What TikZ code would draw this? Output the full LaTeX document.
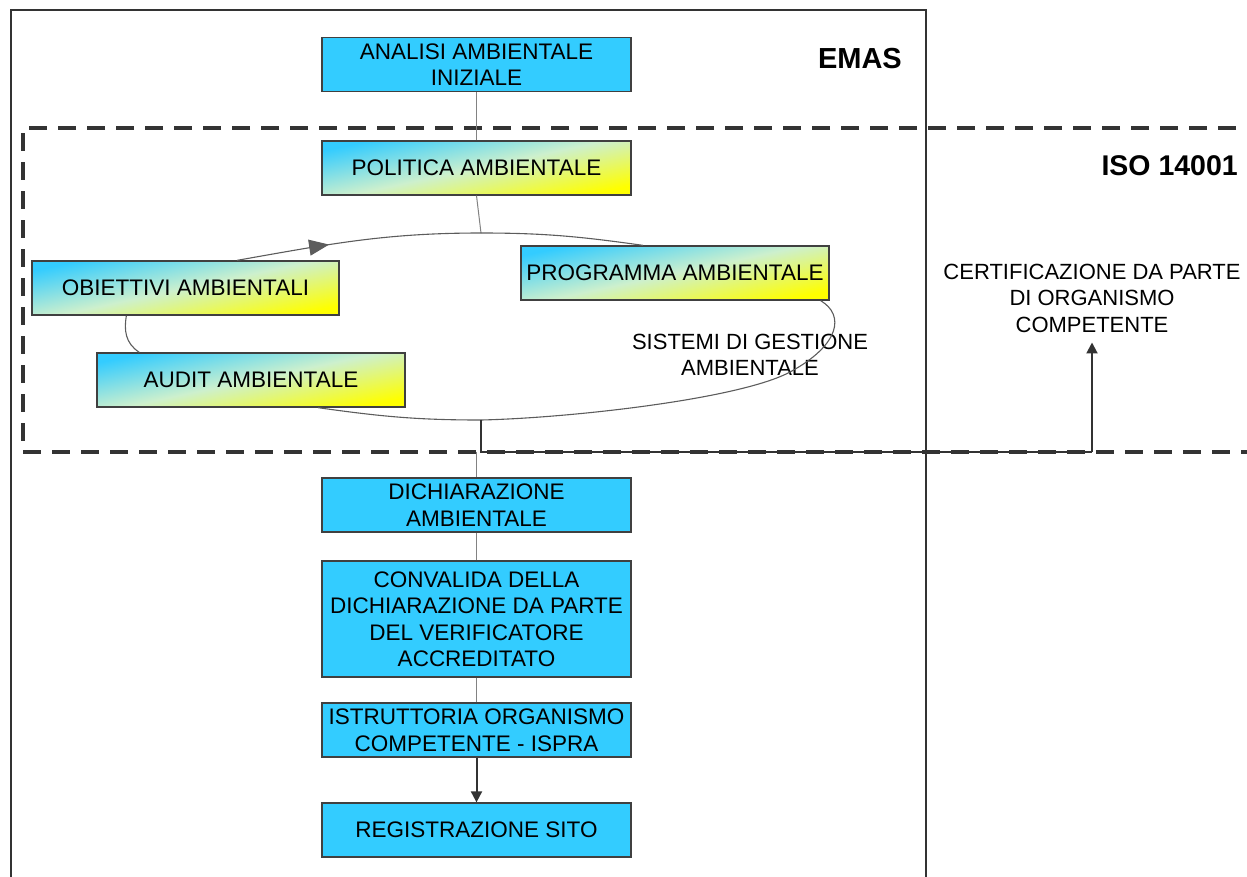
\documentclass[tikz,border=0pt]{standalone}
\usepackage{fontspec}
\setmainfont{Liberation Sans}
\usetikzlibrary{arrows.meta,decorations.markings}
\definecolor{cyanA}{RGB}{51,204,255}
\definecolor{yellowA}{RGB}{255,255,0}
\definecolor{paleA}{RGB}{205,240,205}
\definecolor{boxborder}{RGB}{64,64,64}
\definecolor{dark}{RGB}{51,51,51}
\definecolor{thin}{RGB}{130,130,130}
\newcommand\bxfont{\fontsize{22.5}{26.5}\selectfont}
\newcommand\lblfont{\fontsize{22}{26.5}\selectfont}
\tikzset{
  box/.style={draw=boxborder, line width=1.3pt, inner sep=0pt, minimum width=309pt,
    minimum height=54pt, align=center, font=\bxfont, fill=cyanA},
  gbox/.style={box, top color=cyanA, bottom color=yellowA, middle color=paleA, shading angle=12},
  thinline/.style={draw=thin, line width=1pt},
  loopline/.style={draw=dark!80, line width=1.1pt},
  boldline/.style={draw=dark, line width=2pt},
  dashbox/.style={draw=dark, line width=4pt, dash pattern=on 18pt off 11pt},
  frame/.style={draw=dark, line width=2pt},
  lbl/.style={inner sep=0pt, align=center, font=\lblfont},
  title/.style={inner sep=0pt, font=\bfseries\fontsize{29}{30}\selectfont},
  tip/.style={-{Triangle[length=11pt,width=11pt]}},
}
\begin{document}
\begin{tikzpicture}[x=1pt,y=-1pt]
\useasboundingbox (0,0) rectangle (1247,876);
\clip (0,0) rectangle (1247,876);

% frames
\draw[frame] (11,890) -- (11,10) -- (926,10) -- (926,890);
\draw[dashbox] (1265,128) -- (23,128) -- (23,452) -- (1265,452);

% boxes
\node[box]  (ana) at (476.5,64.5) {ANALISI AMBIENTALE\\INIZIALE};
\node[gbox] (pol) at (476.5,168) {POLITICA AMBIENTALE};
\node[gbox, minimum width=307pt] (obi) at (185.5,288) {OBIETTIVI AMBIENTALI};
\node[gbox, minimum width=308pt] (prg) at (675,273) {PROGRAMMA AMBIENTALE};
\node[gbox, minimum width=308pt] (aud) at (251,380) {AUDIT AMBIENTALE};
\node[box]  (dic) at (476.5,505) {DICHIARAZIONE\\AMBIENTALE};
\node[box, minimum height=116pt] (con) at (476.5,619) {CONVALIDA DELLA\\DICHIARAZIONE DA PARTE\\DEL VERIFICATORE\\ACCREDITATO};
\node[box]  (ist) at (476.5,730) {ISTRUTTORIA ORGANISMO\\COMPETENTE - ISPRA};
\node[box]  (reg) at (476.5,830) {REGISTRAZIONE SITO};

% labels
\node[title, anchor=base east] (emas) at (902,68) {EMAS};
\node[title, anchor=base east, font=\bfseries\fontsize{28.5}{30}\selectfont] (iso) at (1238,175) {ISO 14001};
\node[lbl] (sgm) at (750,355) {SISTEMI DI GESTIONE\\AMBIENTALE};
\node[lbl] (cert) at (1092,298) {CERTIFICAZIONE DA PARTE\\DI ORGANISMO\\COMPETENTE};

% coordinates of the loop
\coordinate (etop) at (481,233);
\coordinate (ebot) at (481,420);
\coordinate (ejoin) at (481,452);
\coordinate (ecorner) at (1092,452);
\coordinate (ebulge) at (790,372);

% straight connectors
\draw[thinline] (ana.south) -- (pol.north);
\draw[thinline] (pol.south) -- (etop);
\draw[thinline] (dic.north |- ejoin) -- (dic.north);
\draw[thinline] (dic.south) -- (con.north);
\draw[thinline] (con.south) -- (ist.north);
\draw[boldline, tip] (ist.south) -- (reg.north);

% loop
\draw[loopline, postaction={decorate}, decoration={markings,
   mark=at position 0.38 with {\arrow{Triangle[length=20pt,width=16pt]}}}]
   ([xshift=51.5pt]obi.north) to[out=10,in=180] (etop);
\draw[loopline] (etop) to[out=0,in=172] ([xshift=-32pt]prg.north);
\draw[loopline] ([xshift=-9pt]prg.south east) .. controls (845,315) and (840,345) .. (ebulge)
   .. controls (740,399) and (570,418) .. (ebot);
\draw[loopline] (ebot) to[out=180,in=-8] ([xshift=67pt]aud.south);
\draw[loopline] ([xshift=43pt]aud.north west) .. controls (125,343) and (124,330) .. ([xshift=95pt]obi.south west);

% EMAS to ISO certification path
\draw[boldline] (ebot) -- (ejoin) -- (ecorner);
\draw[boldline, tip] (ecorner) -- ([yshift=-10pt]cert.south);
\end{tikzpicture}
\end{document}
